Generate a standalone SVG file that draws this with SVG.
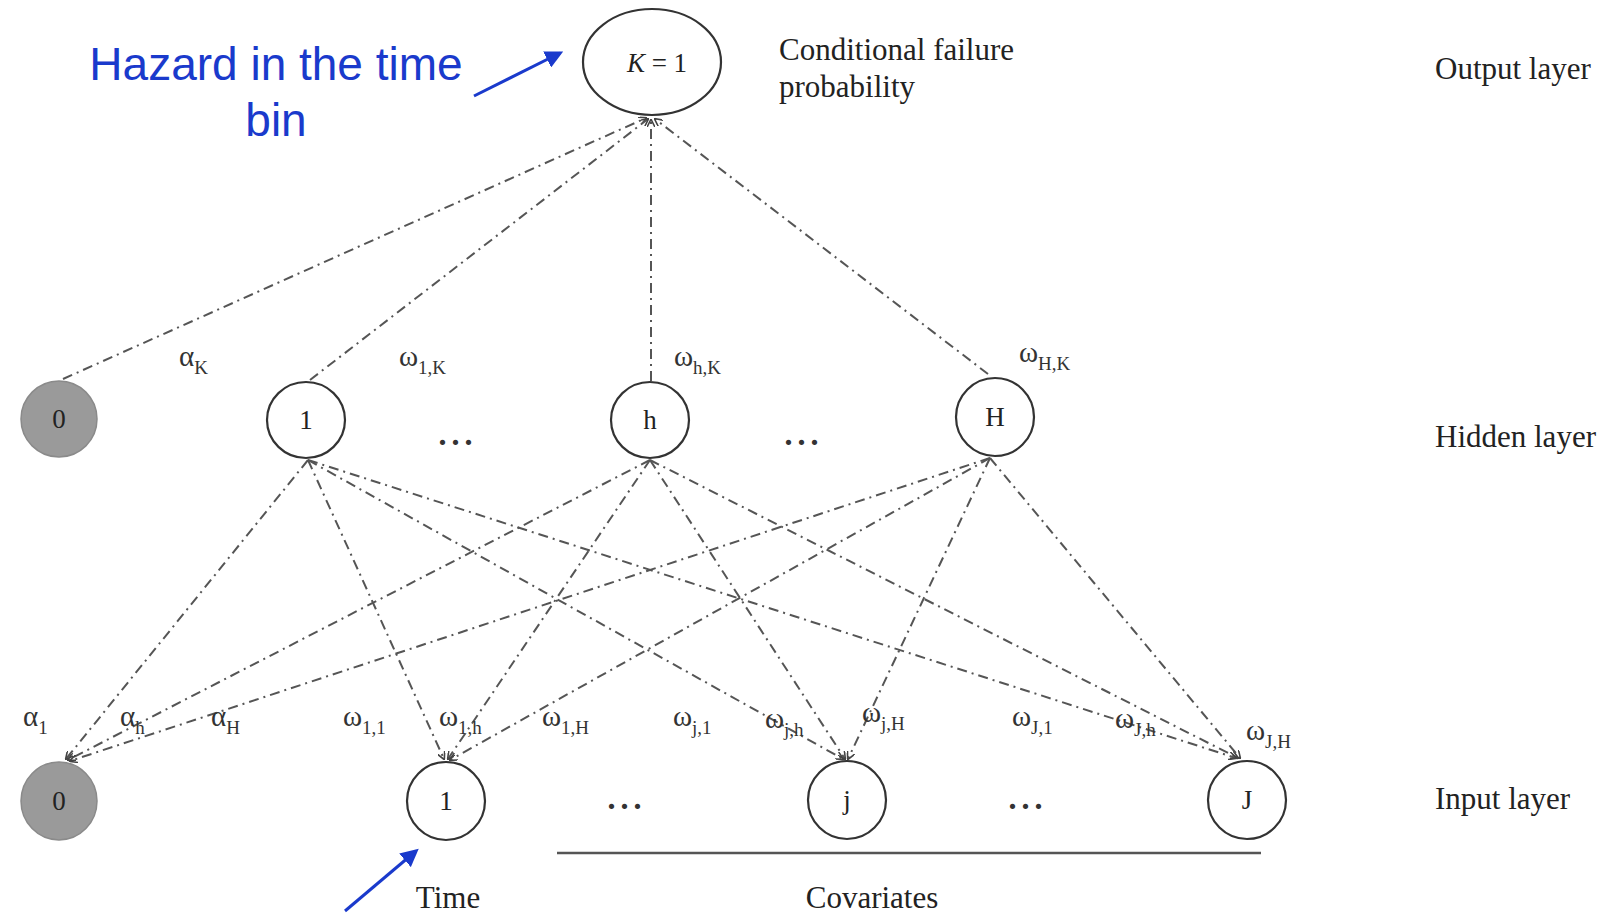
<svg xmlns="http://www.w3.org/2000/svg" width="1623" height="915" viewBox="0 0 1623 915">
<style>
.node{fill:#fff;stroke:#333;stroke-width:2.2}
.bias{fill:#9a9a9a;stroke:#8a8a8a;stroke-width:1.5}
.nl{font-family:"Liberation Serif",serif;font-size:27px;fill:#222;text-anchor:middle}
.lbl{font-family:"Liberation Serif",serif;font-size:31px;fill:#222}
.w{font-family:"Liberation Serif",serif;font-size:29px;fill:#333}
.w tspan{font-size:19px}
.con{stroke:#555;stroke-width:2;fill:none;stroke-dasharray:10 5 2 5;marker-end:url(#ah)}
.blue{font-family:"Liberation Sans",sans-serif;font-size:46px;fill:#1a3acc;text-anchor:middle}
.barrow{stroke:#1a3acc;stroke-width:3;fill:none;marker-end:url(#bh)}
.dots{font-family:"Liberation Serif",serif;font-size:32px;font-weight:bold;fill:#333;text-anchor:middle;letter-spacing:5px}
</style>
<defs>
<marker id="ah" viewBox="0 0 10 10" refX="9" refY="5" markerWidth="4" markerHeight="4" orient="auto" markerUnits="strokeWidth">
<path d="M0,0 L10,5 L0,10" fill="none" stroke="#444" stroke-width="2"/>
</marker>
<marker id="bh" viewBox="0 0 10 10" refX="8" refY="5" markerWidth="6" markerHeight="6" orient="auto" markerUnits="strokeWidth">
<path d="M0,0 L10,5 L0,10 z" fill="#1a3acc"/>
</marker>
</defs>
<rect width="1623" height="915" fill="#fff"/>

<g id="connectors">
<line class="con" x1="63" y1="379" x2="646" y2="118"/>
<line class="con" x1="310" y1="380" x2="648" y2="119"/>
<line class="con" x1="651" y1="381" x2="651" y2="120"/>
<line class="con" x1="988" y1="374" x2="655" y2="119"/>
<line class="con" x1="308" y1="460" x2="66" y2="759"/>
<line class="con" x1="308" y1="460" x2="444" y2="759"/>
<line class="con" x1="308" y1="460" x2="843" y2="759"/>
<line class="con" x1="308" y1="460" x2="1236" y2="758"/>
<line class="con" x1="650" y1="460" x2="68" y2="760"/>
<line class="con" x1="650" y1="460" x2="448" y2="759"/>
<line class="con" x1="650" y1="460" x2="845" y2="759"/>
<line class="con" x1="650" y1="460" x2="1238" y2="758"/>
<line class="con" x1="990" y1="458" x2="70" y2="761"/>
<line class="con" x1="990" y1="458" x2="450" y2="760"/>
<line class="con" x1="990" y1="458" x2="848" y2="759"/>
<line class="con" x1="990" y1="458" x2="1240" y2="758"/>
<line class="barrow" x1="474" y1="96" x2="560" y2="53"/>
<line class="barrow" x1="345" y1="911" x2="416" y2="851"/>
</g>

<g id="node-output">
<ellipse class="node" cx="652" cy="62" rx="69" ry="53"/>
<text class="nl" x="657" y="72"><tspan font-style="italic">K</tspan> = 1</text>
</g>

<g id="node-h0">
<ellipse class="bias" cx="59" cy="419" rx="38" ry="38"/>
<text class="nl" x="59" y="428">0</text>
</g>
<g id="node-h1">
<ellipse class="node" cx="306" cy="420" rx="39" ry="38"/>
<text class="nl" x="306" y="429">1</text>
</g>
<g id="node-hh">
<ellipse class="node" cx="650" cy="420" rx="39" ry="38"/>
<text class="nl" x="650" y="429">h</text>
</g>
<g id="node-hH">
<ellipse class="node" cx="995" cy="417" rx="39" ry="39"/>
<text class="nl" x="995" y="426">H</text>
</g>

<g id="node-i0">
<ellipse class="bias" cx="59" cy="801" rx="38" ry="39"/>
<text class="nl" x="59" y="810">0</text>
</g>
<g id="node-i1">
<ellipse class="node" cx="446" cy="801" rx="39" ry="39"/>
<text class="nl" x="446" y="810">1</text>
</g>
<g id="node-ij">
<ellipse class="node" cx="847" cy="800" rx="39" ry="39"/>
<text class="nl" x="847" y="809">j</text>
</g>
<g id="node-iJ">
<ellipse class="node" cx="1247" cy="800" rx="39" ry="39"/>
<text class="nl" x="1247" y="809">J</text>
</g>

<g id="labels">
<text class="lbl" x="779" y="60">Conditional failure</text>
<text class="lbl" x="779" y="97">probability</text>
<text class="lbl" x="1435" y="79">Output layer</text>
<text class="lbl" x="1435" y="447">Hidden layer</text>
<text class="lbl" x="1435" y="809">Input layer</text>
<text class="lbl" x="448" y="908" text-anchor="middle">Time</text>
<text class="lbl" x="872" y="908" text-anchor="middle">Covariates</text>
<line x1="557" y1="853" x2="1261" y2="853" stroke="#555" stroke-width="2.5"/>

<text class="dots" x="458" y="445">...</text>
<text class="dots" x="804" y="445">...</text>
<text class="dots" x="627" y="809">...</text>
<text class="dots" x="1028" y="809">...</text>

<text class="blue" x="276" y="80">Hazard in the time</text>
<text class="blue" x="276" y="136">bin</text>

<text class="w" x="179" y="366">α<tspan dy="8">K</tspan></text>
<text class="w" x="399" y="366">ω<tspan dy="8">1,K</tspan></text>
<text class="w" x="674" y="366">ω<tspan dy="8">h,K</tspan></text>
<text class="w" x="1019" y="362">ω<tspan dy="8">H,K</tspan></text>

<text class="w" x="23" y="726">α<tspan dy="8">1</tspan></text>
<text class="w" x="120" y="726">α<tspan dy="8">h</tspan></text>
<text class="w" x="211" y="726">α<tspan dy="8">H</tspan></text>
<text class="w" x="343" y="726">ω<tspan dy="8">1,1</tspan></text>
<text class="w" x="439" y="726">ω<tspan dy="8">1,h</tspan></text>
<text class="w" x="542" y="726">ω<tspan dy="8">1,H</tspan></text>
<text class="w" x="673" y="726">ω<tspan dy="8">j,1</tspan></text>
<text class="w" x="765" y="728">ω<tspan dy="8">j,h</tspan></text>
<text class="w" x="862" y="722">ω<tspan dy="8">j,H</tspan></text>
<text class="w" x="1012" y="726">ω<tspan dy="8">J,1</tspan></text>
<text class="w" x="1115" y="728">ω<tspan dy="8">J,h</tspan></text>
<text class="w" x="1246" y="740">ω<tspan dy="8">J,H</tspan></text>
</g>
</svg>
